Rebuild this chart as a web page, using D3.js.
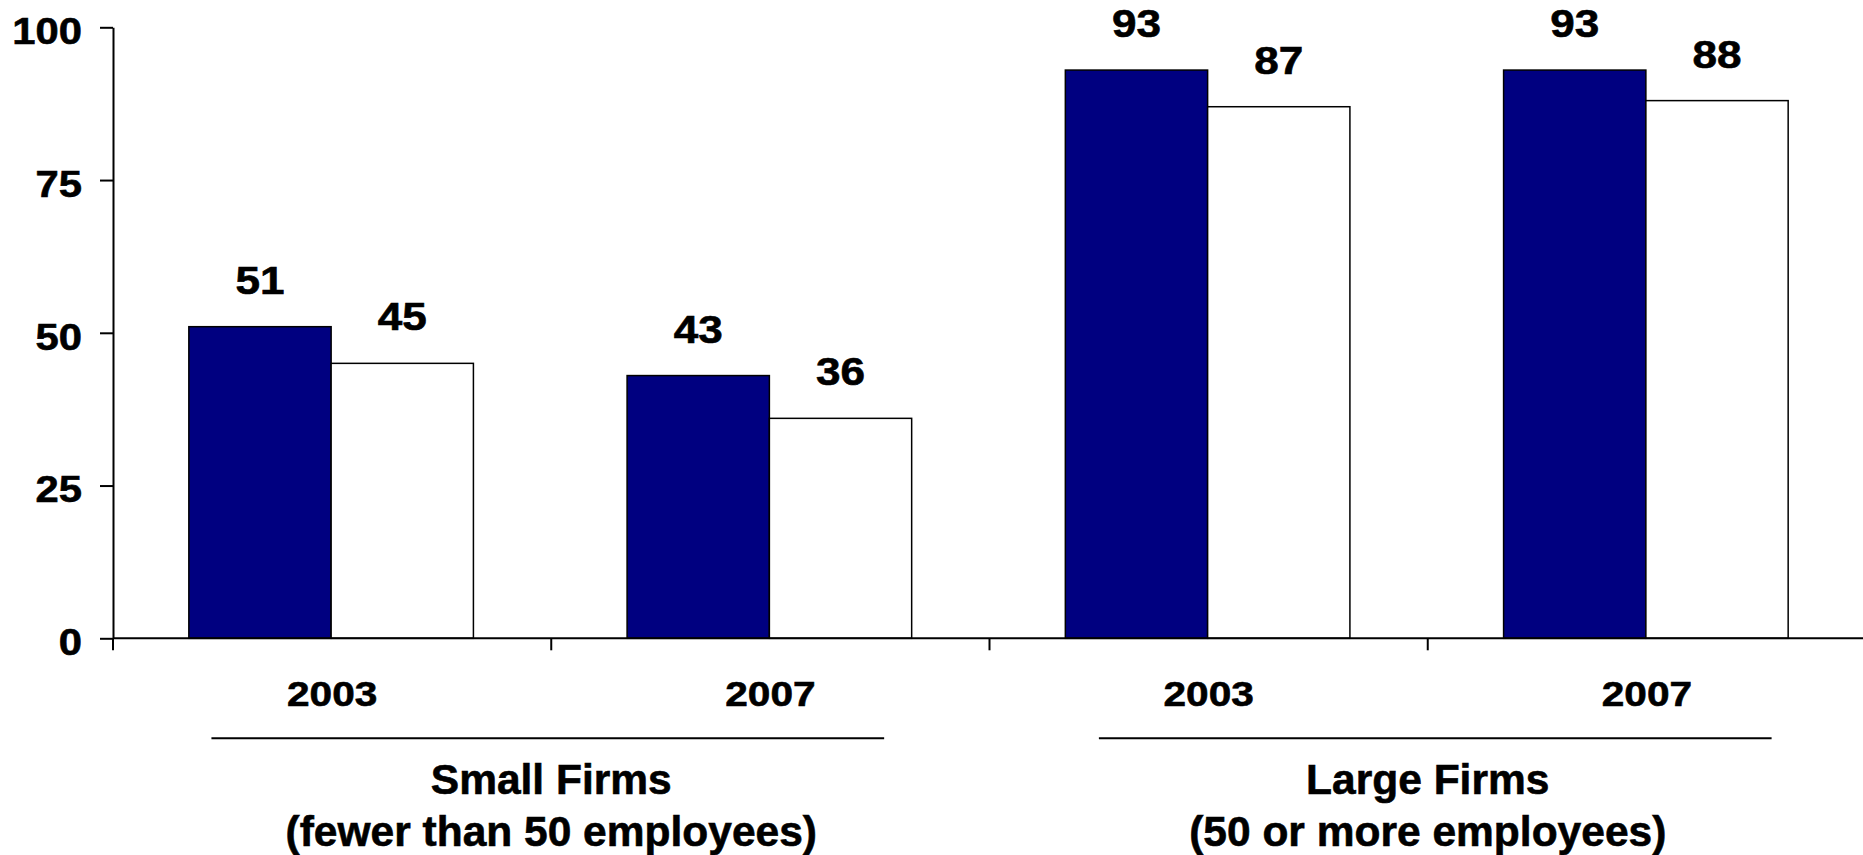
<!DOCTYPE html>
<html>
<head>
<meta charset="utf-8">
<script src="https://cdn.jsdelivr.net/npm/d3@7"></script>
<style>
  html, body { margin: 0; padding: 0; background: #fff; }
  svg { display: block; }
  text { font-family: "Liberation Sans", Arial, Helvetica, sans-serif; font-weight: bold; fill: #000;
         stroke: #000; stroke-width: 0.6px; }
</style>
</head>
<body>
<svg id="chart" width="1863" height="855"></svg>
<script>
// Firm-size groups and their notes
const categories = ["Small Firms", "Large Firms"];
const categoryNotes = ["(fewer than 50 employees)", "(50 or more employees)"];
// Survey years shown inside each group
const years = ["2003", "2007"];
// Bar values, in group/year order: Small 2003, Small 2007, Large 2003, Large 2007
const navyValues = [51, 43, 93, 93];
const whiteValues = [45, 36, 87, 88];
// Y axis ticks
const yTicks = [0, 25, 50, 75, 100];

const series = [
  { key: "navy", values: navyValues, fill: "#000080" },
  { key: "white", values: whiteValues, fill: "#ffffff" }
];

const svg = d3.select("#chart");
const plot = { left: 113, right: 1866, top: 27.3, bottom: 638.3 };
const stretch = 1.16; // horizontally widened numerals

const slots = d3.cross(categories, years).map(([c, y], i) => ({ id: c + "|" + y, category: c, year: y, index: i }));

const x0 = d3.scaleBand().domain(slots.map(d => d.id)).range([plot.left, plot.right]).padding(0);
const x1 = d3.scaleBand().domain(series.map(s => s.key)).range([0, x0.bandwidth()])
  .paddingInner(0).paddingOuter(0.54);
const y = d3.scaleLinear().domain([0, 100]).range([plot.bottom, plot.top]);

// Bars
const slotG = svg.append("g").selectAll("g").data(slots).join("g")
  .attr("transform", d => `translate(${x0(d.id) - 1},0)`);

slotG.selectAll("rect")
  .data(d => series.map(s => ({ key: s.key, fill: s.fill, value: s.values[d.index] })))
  .join("rect")
  .attr("x", d => x1(d.key))
  .attr("y", d => y(d.value))
  .attr("width", x1.bandwidth())
  .attr("height", d => y(0) - y(d.value))
  .attr("fill", d => d.fill)
  .attr("stroke", "#000")
  .attr("stroke-width", 1.5);

// Value labels
slotG.selectAll("g.val")
  .data(d => series.map(s => ({ key: s.key, value: s.values[d.index] })))
  .join("g")
  .attr("class", "val")
  .attr("transform", d => `translate(${x1(d.key) + x1.bandwidth() / 2},${y(d.value) - 33}) scale(${stretch},1)`)
  .append("text")
  .attr("text-anchor", "middle")
  .style("font-size", "38px")
  .text(d => d.value);

// Y axis
const yAxis = svg.append("g")
  .attr("transform", `translate(${plot.left},0)`)
  .call(d3.axisLeft(y).tickValues(yTicks).tickSize(13).tickSizeOuter(0).tickPadding(18));
yAxis.select(".domain").attr("stroke", "#000").attr("stroke-width", 2);
yAxis.selectAll(".tick line").attr("stroke", "#000").attr("stroke-width", 2);
yAxis.selectAll(".tick text")
  .attr("x", -31 / stretch)
  .attr("dy", "0.45em")
  .attr("transform", `scale(${stretch},1)`)
  .style("font-size", "36px")
  .style("font-family", "'Liberation Sans', Arial, sans-serif")
  .style("font-weight", "bold")
  .attr("fill", "#000");

// X axis baseline with ticks at slot boundaries
const xAxis = svg.append("g");
xAxis.append("line")
  .attr("x1", plot.left).attr("x2", plot.right)
  .attr("y1", y(0)).attr("y2", y(0))
  .attr("stroke", "#000").attr("stroke-width", 2);
const boundaries = slots.map(d => x0(d.id)).concat([x0(slots[slots.length - 1].id) + x0.bandwidth()]);
xAxis.selectAll("line.tick").data(boundaries).join("line")
  .attr("class", "tick")
  .attr("x1", d => d).attr("x2", d => d)
  .attr("y1", y(0)).attr("y2", y(0) + 12)
  .attr("stroke", "#000").attr("stroke-width", 2);

// Year labels
xAxis.selectAll("g.year").data(slots).join("g")
  .attr("class", "year")
  .attr("transform", d => `translate(${x0(d.id) + x0.bandwidth() / 2},705.5) scale(${stretch},1)`)
  .append("text")
  .attr("text-anchor", "middle")
  .style("font-size", "35px")
  .text(d => d.year);

// Group rules and titles
const groupInfo = categories.map((c, i) => {
  const members = slots.filter(s => s.category === c);
  const start = x0(members[0].id);
  const end = x0(members[members.length - 1].id) + x0.bandwidth();
  return { name: c, note: categoryNotes[i], start, end, span: end - start, index: i };
});

const groupG = svg.append("g").selectAll("g").data(groupInfo).join("g");
groupG.append("line")
  .attr("x1", d => d.start + d.span * (0.1123 + 0.0125 * d.index))
  .attr("x2", d => d.start + d.span * (0.1123 + 0.0125 * d.index) + d.span * 0.7675)
  .attr("y1", 738.3).attr("y2", 738.3)
  .attr("stroke", "#000").attr("stroke-width", 2);
groupG.append("text")
  .attr("x", d => (d.start + d.end) / 2)
  .attr("y", 794)
  .attr("text-anchor", "middle")
  .style("font-size", "42.5px")
  .text(d => d.name);
groupG.append("text")
  .attr("x", d => (d.start + d.end) / 2)
  .attr("y", 845.5)
  .attr("text-anchor", "middle")
  .style("font-size", "42.5px")
  .text(d => d.note);
</script>
</body>
</html>
